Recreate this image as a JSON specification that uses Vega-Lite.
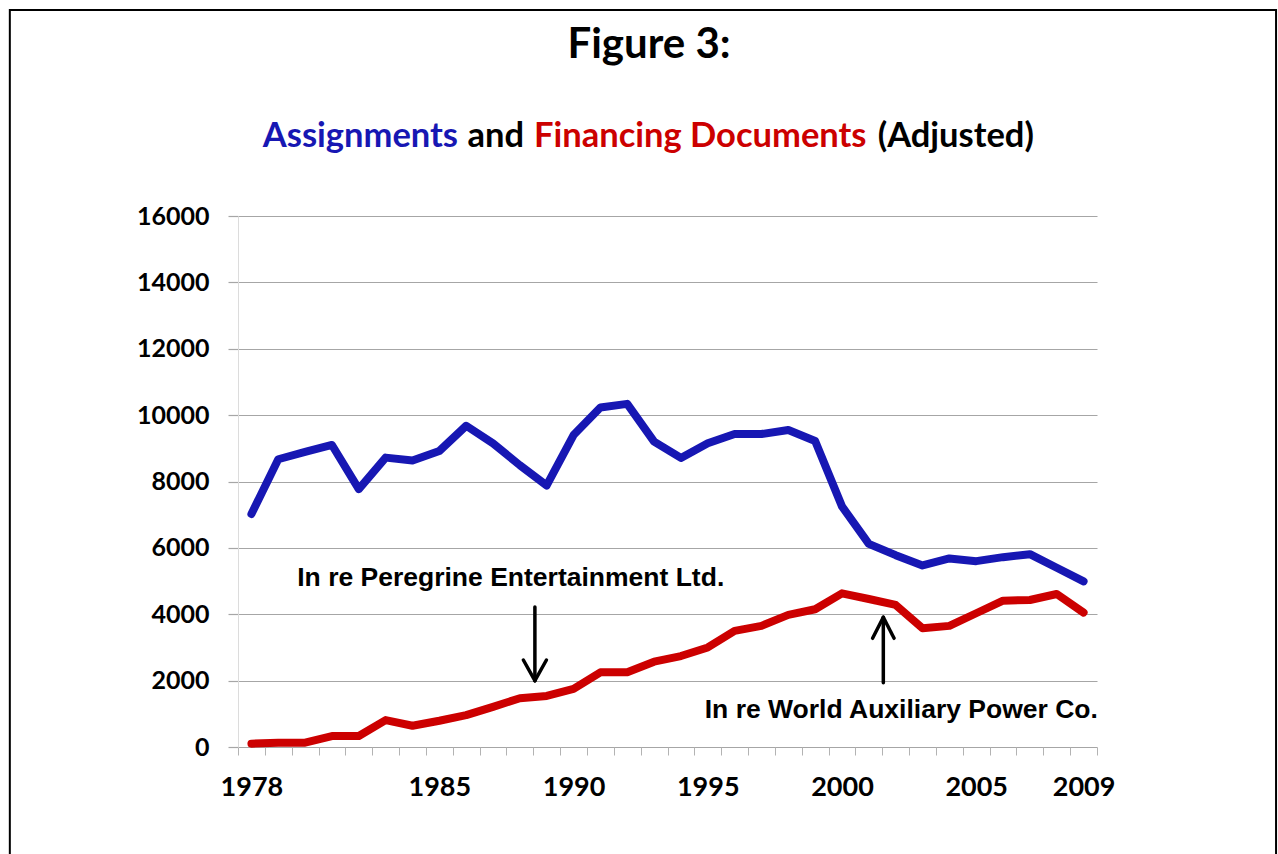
{
  "$schema": "https://vega.github.io/schema/vega-lite/v6.json",
  "width": 859,
  "height": 531,
  "autosize": "none",
  "padding": {"left": 238, "top": 216, "right": 181, "bottom": 107},
  "background": "white",
  "title": {
    "text": "Figure 3:",
    "font": "Lato",
    "fontSize": 42,
    "fontWeight": "bold",
    "color": "black",
    "anchor": "middle",
    "frame": "group",
    "dx": -18.5,
    "offset": -57.5
  },
  "config": {"view": {"stroke": null}},
  "resolve": {"axis": {"x": "independent", "y": "independent"}},
  "layer": [
    {
      "data": {"values": [
        {"year": 1978, "series": "Assignments", "value": 7020},
        {"year": 1979, "series": "Assignments", "value": 8670},
        {"year": 1980, "series": "Assignments", "value": 8890},
        {"year": 1981, "series": "Assignments", "value": 9100},
        {"year": 1982, "series": "Assignments", "value": 7770},
        {"year": 1983, "series": "Assignments", "value": 8720},
        {"year": 1984, "series": "Assignments", "value": 8630},
        {"year": 1985, "series": "Assignments", "value": 8920},
        {"year": 1986, "series": "Assignments", "value": 9680},
        {"year": 1987, "series": "Assignments", "value": 9150},
        {"year": 1988, "series": "Assignments", "value": 8490},
        {"year": 1989, "series": "Assignments", "value": 7880},
        {"year": 1990, "series": "Assignments", "value": 9400},
        {"year": 1991, "series": "Assignments", "value": 10230},
        {"year": 1992, "series": "Assignments", "value": 10340},
        {"year": 1993, "series": "Assignments", "value": 9200},
        {"year": 1994, "series": "Assignments", "value": 8710},
        {"year": 1995, "series": "Assignments", "value": 9150},
        {"year": 1996, "series": "Assignments", "value": 9430},
        {"year": 1997, "series": "Assignments", "value": 9430},
        {"year": 1998, "series": "Assignments", "value": 9550},
        {"year": 1999, "series": "Assignments", "value": 9220},
        {"year": 2000, "series": "Assignments", "value": 7250},
        {"year": 2001, "series": "Assignments", "value": 6120},
        {"year": 2002, "series": "Assignments", "value": 5780},
        {"year": 2003, "series": "Assignments", "value": 5470},
        {"year": 2004, "series": "Assignments", "value": 5680},
        {"year": 2005, "series": "Assignments", "value": 5600},
        {"year": 2006, "series": "Assignments", "value": 5720},
        {"year": 2007, "series": "Assignments", "value": 5810},
        {"year": 2008, "series": "Assignments", "value": 5400},
        {"year": 2009, "series": "Assignments", "value": 4990},
        {"year": 1978, "series": "Financing Documents", "value": 100},
        {"year": 1979, "series": "Financing Documents", "value": 130},
        {"year": 1980, "series": "Financing Documents", "value": 130},
        {"year": 1981, "series": "Financing Documents", "value": 330},
        {"year": 1982, "series": "Financing Documents", "value": 330},
        {"year": 1983, "series": "Financing Documents", "value": 810},
        {"year": 1984, "series": "Financing Documents", "value": 640},
        {"year": 1985, "series": "Financing Documents", "value": 790},
        {"year": 1986, "series": "Financing Documents", "value": 960},
        {"year": 1987, "series": "Financing Documents", "value": 1210},
        {"year": 1988, "series": "Financing Documents", "value": 1470},
        {"year": 1989, "series": "Financing Documents", "value": 1540},
        {"year": 1990, "series": "Financing Documents", "value": 1750},
        {"year": 1991, "series": "Financing Documents", "value": 2250},
        {"year": 1992, "series": "Financing Documents", "value": 2250},
        {"year": 1993, "series": "Financing Documents", "value": 2570},
        {"year": 1994, "series": "Financing Documents", "value": 2740},
        {"year": 1995, "series": "Financing Documents", "value": 3000},
        {"year": 1996, "series": "Financing Documents", "value": 3500},
        {"year": 1997, "series": "Financing Documents", "value": 3650},
        {"year": 1998, "series": "Financing Documents", "value": 3980},
        {"year": 1999, "series": "Financing Documents", "value": 4150},
        {"year": 2000, "series": "Financing Documents", "value": 4630},
        {"year": 2001, "series": "Financing Documents", "value": 4460},
        {"year": 2002, "series": "Financing Documents", "value": 4280},
        {"year": 2003, "series": "Financing Documents", "value": 3580},
        {"year": 2004, "series": "Financing Documents", "value": 3650},
        {"year": 2005, "series": "Financing Documents", "value": 4030},
        {"year": 2006, "series": "Financing Documents", "value": 4410},
        {"year": 2007, "series": "Financing Documents", "value": 4430},
        {"year": 2008, "series": "Financing Documents", "value": 4610},
        {"year": 2009, "series": "Financing Documents", "value": 4050}
      ]},
      "mark": {"type": "line", "strokeWidth": 8, "strokeJoin": "round", "strokeCap": "round"},
      "encoding": {
        "x": {
          "field": "year", "type": "quantitative",
          "scale": {"domain": [1977.5, 2009.5], "nice": false, "zero": false},
          "axis": {
            "orient": "bottom",
            "values": [1978, 1985, 1990, 1995, 2000, 2005, 2009],
            "format": "d",
            "ticks": false, "domain": false, "grid": false, "title": null,
            "labelFont": "Lato",
            "labelFontSize": 27, "labelFontWeight": "bold", "labelColor": "black",
            "labelBaseline": "alphabetic", "labelPadding": 48,
            "labelFlush": false, "labelOverlap": false
          }
        },
        "y": {
          "field": "value", "type": "quantitative",
          "scale": {"domain": [0, 16000], "nice": false},
          "axis": {
            "orient": "left",
            "values": [0, 2000, 4000, 6000, 8000, 10000, 12000, 14000, 16000],
            "format": "d", "title": null,
            "grid": true, "gridColor": "#a6a6a6", "gridWidth": 1.2,
            "ticks": true, "tickSize": 10, "tickColor": "#a6a6a6", "tickWidth": 1.2,
            "domain": true, "domainColor": "#dcdcdc", "domainWidth": 1,
            "labelFont": "Lato", "labelFontSize": 25, "labelFontWeight": "bold",
            "labelColor": "black", "labelPadding": 19
          }
        },
        "color": {
          "field": "series", "type": "nominal",
          "scale": {"domain": ["Assignments", "Financing Documents"], "range": ["#1717b3", "#cc0000"]},
          "legend": null
        }
      }
    },
    {
      "data": {"values": [
        {"arrow": "Peregrine", "year": 1988.56, "value": 4218, "year2": 1988.56, "value2": 1998},
        {"arrow": "Peregrine", "year": 1988.13, "value": 2621, "year2": 1988.56, "value2": 1998},
        {"arrow": "Peregrine", "year": 1988.99, "value": 2621, "year2": 1988.56, "value2": 1998},
        {"arrow": "World Auxiliary", "year": 2001.54, "value": 1937, "year2": 2001.54, "value2": 3908},
        {"arrow": "World Auxiliary", "year": 2001.14, "value": 3275, "year2": 2001.54, "value2": 3908},
        {"arrow": "World Auxiliary", "year": 2001.94, "value": 3275, "year2": 2001.54, "value2": 3908}
      ]},
      "mark": {"type": "rule", "color": "black", "strokeWidth": 3.5, "strokeCap": "round"},
      "encoding": {
        "x": {
          "field": "year", "type": "quantitative",
          "scale": {"domain": [1977.5, 2009.5], "nice": false, "zero": false},
          "axis": {
            "orient": "bottom",
            "values": [1977.5, 1978.5, 1979.5, 1980.5, 1981.5, 1982.5, 1983.5, 1984.5, 1985.5, 1986.5, 1987.5, 1988.5, 1989.5, 1990.5, 1991.5, 1992.5, 1993.5, 1994.5, 1995.5, 1996.5, 1997.5, 1998.5, 1999.5, 2000.5, 2001.5, 2002.5, 2003.5, 2004.5, 2005.5, 2006.5, 2007.5, 2008.5, 2009.5],
            "labels": false, "ticks": true, "tickSize": 8, "tickColor": "#b3b3b3", "tickWidth": 1,
            "domain": false, "grid": false, "title": null
          }
        },
        "x2": {"field": "year2"},
        "y": {"field": "value", "type": "quantitative", "scale": {"domain": [0, 16000], "nice": false}, "axis": null},
        "y2": {"field": "value2"}
      }
    },
    {
      "data": {"values": [
        {"label": "In re Peregrine Entertainment Ltd.", "year": 1987.66, "value": 4851},
        {"label": "In re World Auxiliary Power Co.", "year": 2002.21, "value": 865}
      ]},
      "mark": {"type": "text", "font": "Liberation Sans", "fontSize": 26.5, "fontWeight": "bold", "color": "black", "align": "center", "baseline": "alphabetic"},
      "encoding": {
        "x": {"field": "year", "type": "quantitative", "scale": {"domain": [1977.5, 2009.5], "nice": false, "zero": false}, "axis": null},
        "y": {"field": "value", "type": "quantitative", "scale": {"domain": [0, 16000], "nice": false}, "axis": null},
        "text": {"field": "label"}
      }
    },
    {
      "data": {"values": [{}]},
      "mark": {"type": "text", "font": "Lato", "fontSize": 34.5, "fontWeight": "bold", "align": "center", "baseline": "alphabetic"},
      "encoding": {
        "x": {"datum": 1982.06, "type": "quantitative", "scale": {"domain": [1977.5, 2009.5], "nice": false, "zero": false}, "axis": null},
        "y": {"datum": 18088, "type": "quantitative", "scale": {"domain": [0, 16000], "nice": false}, "axis": null},
        "text": {"value": "Assignments"},
        "color": {"datum": "Assignments", "type": "nominal", "legend": null}
      }
    },
    {
      "data": {"values": [{}]},
      "mark": {"type": "text", "font": "Lato", "fontSize": 34.5, "fontWeight": "bold", "align": "center", "baseline": "alphabetic", "color": "black"},
      "encoding": {
        "x": {"datum": 1987.1, "type": "quantitative", "scale": {"domain": [1977.5, 2009.5], "nice": false, "zero": false}, "axis": null},
        "y": {"datum": 18088, "type": "quantitative", "scale": {"domain": [0, 16000], "nice": false}, "axis": null},
        "text": {"value": "and"}
      }
    },
    {
      "data": {"values": [{}]},
      "mark": {"type": "text", "font": "Lato", "fontSize": 34.5, "fontWeight": "bold", "align": "center", "baseline": "alphabetic"},
      "encoding": {
        "x": {"datum": 1994.72, "type": "quantitative", "scale": {"domain": [1977.5, 2009.5], "nice": false, "zero": false}, "axis": null},
        "y": {"datum": 18088, "type": "quantitative", "scale": {"domain": [0, 16000], "nice": false}, "axis": null},
        "text": {"value": "Financing Documents"},
        "color": {"datum": "Financing Documents", "type": "nominal", "legend": null}
      }
    },
    {
      "data": {"values": [{}]},
      "mark": {"type": "text", "font": "Lato", "fontSize": 34.5, "fontWeight": "bold", "align": "center", "baseline": "alphabetic", "color": "black"},
      "encoding": {
        "x": {"datum": 2004.24, "type": "quantitative", "scale": {"domain": [1977.5, 2009.5], "nice": false, "zero": false}, "axis": null},
        "y": {"datum": 18088, "type": "quantitative", "scale": {"domain": [0, 16000], "nice": false}, "axis": null},
        "text": {"value": "(Adjusted)"}
      }
    },
    {
      "data": {"values": [{}]},
      "mark": {"type": "rect", "filled": false, "stroke": "black", "strokeWidth": 2},
      "encoding": {
        "x": {"datum": 1969.0, "type": "quantitative", "scale": {"domain": [1977.5, 2009.5], "nice": false, "zero": false}, "axis": null},
        "x2": {"datum": 2016.17},
        "y": {"datum": 22207, "type": "quantitative", "scale": {"domain": [0, 16000], "nice": false}, "axis": null},
        "y2": {"datum": -4000}
      }
    }
  ]
}
